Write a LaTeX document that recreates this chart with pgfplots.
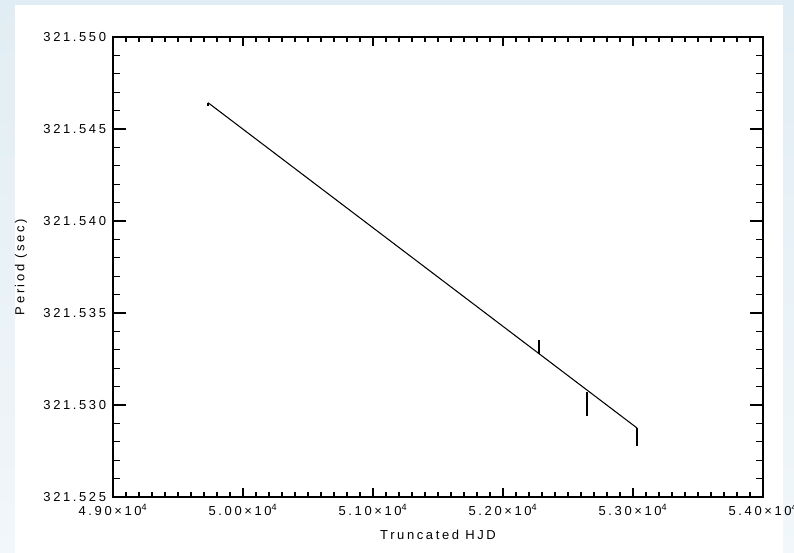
\documentclass[border=0pt]{standalone}
\usepackage{pgfplots}
\pgfplotsset{compat=1.18}
\usepackage{fontspec}
\setmainfont{Liberation Sans}[LetterSpace=20]
\definecolor{bgtop}{HTML}{E1EDF4}
\definecolor{bgbot}{HTML}{F1F7FA}
% Period values stored as (P - 321.5 s) x 1000, i.e. in ms above 321.5 s
\pgfplotstableread{
x y
49731 46.43
53031 28.75
}\fitline
\begin{document}
\begin{tikzpicture}
\path[use as bounding box, top color=bgtop, bottom color=bgbot] (0,0) rectangle (595.5pt,414.75pt);
\fill[white] (11.25pt,0) rectangle (587.25pt,411pt);
\pgfplotsset{
  common/.style={
    at={(84.75pt,42pt)}, anchor=south west, scale only axis,
    width=487.5pt, height=345pt,
    xmin=49000, xmax=54000, ymin=25, ymax=50,
    scaled x ticks=false, scaled y ticks=false,
    tick align=inside,
    axis line style={line width=1.1pt},
    every tick/.style={black, line width=0.9pt},
    font=\fontsize{9.75pt}{11pt}\selectfont,
  }
}
\begin{axis}[common,
  xtick={49000,50000,51000,52000,53000,54000},
  xticklabels={4.90×10\textsuperscript{4},5.00×10\textsuperscript{4},5.10×10\textsuperscript{4},5.20×10\textsuperscript{4},5.30×10\textsuperscript{4},5.40×10\textsuperscript{4}},
  minor x tick num=9,
  major tick length=6.9pt, minor tick length=3.45pt,
  ytick=\empty,
  xticklabel style={inner sep=0pt, anchor=north, yshift=-5.5pt},
  xlabel={Truncated HJD},
  every axis x label/.style={at={(axis description cs:0.5,0)}, anchor=north, inner sep=0pt, yshift=-24.5pt},
  ylabel={Period (sec)},
  every axis y label/.style={at={(axis description cs:-0.1415,0.5)}, anchor=center, rotate=90, inner sep=0pt},
]
\addplot[black, line width=0.8pt] table[x=x,y=y] {\fitline};
\addplot[black, line width=1.1pt] coordinates {(49731,46.25) (49731,46.43)};
\addplot[black, line width=1.1pt] coordinates {(52277,32.77) (52277,33.53)};
\addplot[black, line width=1.1pt] coordinates {(52646,29.40) (52646,30.71)};
\addplot[black, line width=1.1pt] coordinates {(53031,27.77) (53031,28.75)};
\end{axis}
\begin{axis}[common,
  xtick=\empty,
  ytick={25,30,35,40,45,50},
  yticklabels={321.525,321.530,321.535,321.540,321.545,321.550},
  minor y tick num=4,
  major tick length=9.75pt, minor tick length=4.9pt,
  yticklabel style={inner sep=0pt, anchor=east, xshift=-5pt},
]
\end{axis}
\end{tikzpicture}
\end{document}
